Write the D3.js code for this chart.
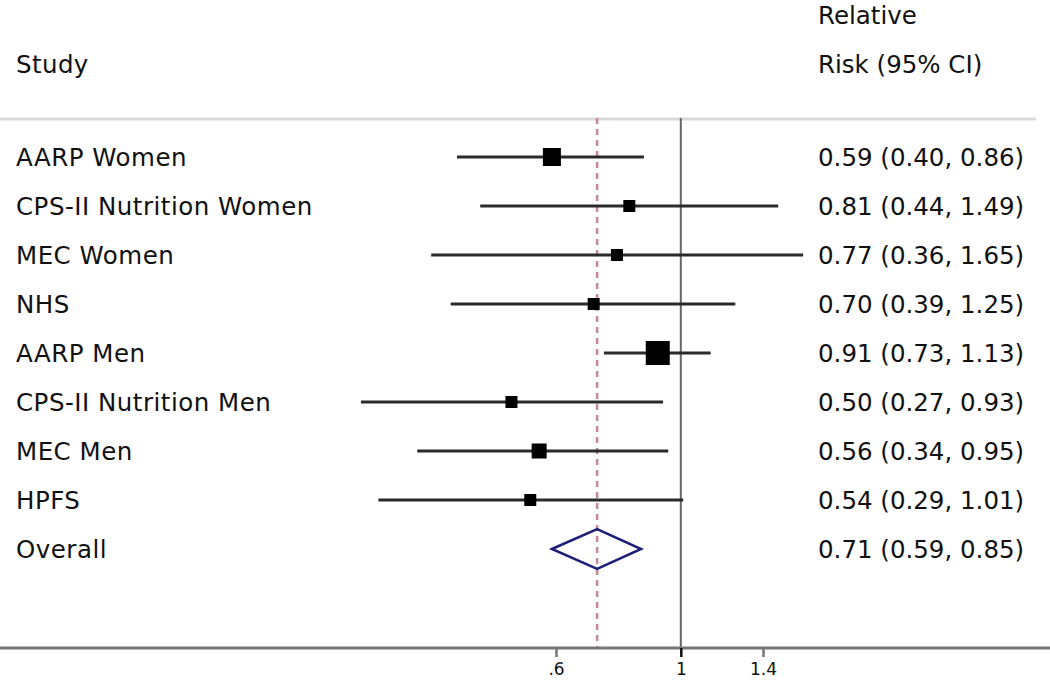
<!DOCTYPE html>
<html>
<head>
<meta charset="utf-8">
<script src="https://cdn.jsdelivr.net/npm/d3@7"></script>
<style>
  html, body { margin: 0; padding: 0; background: #fff; }
  svg { display: block; font-family: "DejaVu Sans", Verdana, sans-serif; }
</style>
</head>
<body>
<svg id="chart" width="1050" height="684"></svg>
<script>
// ---- data ----
const studies = ["AARP Women", "CPS-II Nutrition Women", "MEC Women", "NHS",
                 "AARP Men", "CPS-II Nutrition Men", "MEC Men", "HPFS"];
const rr    = [0.59, 0.81, 0.77, 0.70, 0.91, 0.50, 0.56, 0.54];
const lower = [0.40, 0.44, 0.36, 0.39, 0.73, 0.27, 0.34, 0.29];
const upper = [0.86, 1.49, 1.65, 1.25, 1.13, 0.93, 0.95, 1.01];
const weights = [17.6, 7.8, 7.8, 7.8, 31.2, 7.8, 12.2, 7.8]; // % weight (box area)
const overall = { label: "Overall", rr: 0.71, lower: 0.59, upper: 0.85 };
const tickValues = [0.6, 1, 1.4];
const tickLabels = [".6", "1", "1.4"];

// ---- layout ----
const svg = d3.select("#chart");
const W = 1050, H = 684;
const axisY = 648, topY = 118;
const fmt = d3.format(".2f");

const x = d3.scaleLog().domain([0.6, 1.4]).range([556, 763]);
const rows = studies.concat([overall.label]);
const y = d3.scalePoint().domain(rows).range([157, 549]);
const box = d3.scaleSqrt().domain([0, d3.max(weights)]).range([0, 24]);

// header separator
svg.append("line")
  .attr("x1", 0).attr("x2", 1036).attr("y1", 119).attr("y2", 119)
  .attr("stroke", "#d9d9d9").attr("stroke-width", 3);

// headers
const hdr = svg.append("g").attr("font-size", 24.5).attr("fill", "#111");
hdr.append("text").attr("x", 16).attr("y", 73).attr("letter-spacing", 0.4).text("Study");
hdr.append("text").attr("x", 818).attr("y", 24).text("Relative");
hdr.append("text").attr("x", 818).attr("y", 73).text("Risk (95% CI)");

// null line at 1
svg.append("line")
  .attr("x1", x(1)).attr("x2", x(1)).attr("y1", topY).attr("y2", axisY)
  .attr("stroke", "#666").attr("stroke-width", 2);

// overall dashed line
svg.append("line")
  .attr("x1", x(overall.rr)).attr("x2", x(overall.rr)).attr("y1", topY).attr("y2", axisY)
  .attr("stroke", "#c48a94").attr("stroke-width", 2.5).attr("stroke-dasharray", "6,5");

// CI lines
const data = studies.map((s, i) => ({ s, rr: rr[i], lo: lower[i], hi: upper[i], w: weights[i] }));
svg.append("g").selectAll("line").data(data).join("line")
  .attr("x1", d => x(d.lo)).attr("x2", d => x(d.hi))
  .attr("y1", d => y(d.s)).attr("y2", d => y(d.s))
  .attr("stroke", "#2a2a2a").attr("stroke-width", 3);

// boxes
svg.append("g").selectAll("rect").data(data).join("rect")
  .attr("x", d => x(d.rr) - box(d.w) / 2)
  .attr("y", d => y(d.s) - box(d.w) / 2)
  .attr("width", d => box(d.w)).attr("height", d => box(d.w))
  .attr("fill", "#000");

// diamond
const oy = y(overall.label), dh = 20;
svg.append("path")
  .attr("d", `M${x(overall.lower)},${oy} L${x(overall.rr)},${oy - dh} L${x(overall.upper)},${oy} L${x(overall.rr)},${oy + dh} Z`)
  .attr("fill", "none").attr("stroke", "#1c1f78").attr("stroke-width", 2.5);

// labels
const lab = svg.append("g").attr("font-size", 24.5).attr("fill", "#111");
lab.selectAll("text.l").data(rows).join("text").attr("class", "l")
  .attr("x", 16).attr("y", d => y(d) + 9).attr("letter-spacing", 0.5).text(d => d);
const allRows = data.concat([{ s: overall.label, rr: overall.rr, lo: overall.lower, hi: overall.upper }]);
lab.selectAll("text.r").data(allRows).join("text").attr("class", "r")
  .attr("x", 818).attr("y", d => y(d.s) + 9)
  .text(d => `${fmt(d.rr)} (${fmt(d.lo)}, ${fmt(d.hi)})`);

// x axis
svg.append("line")
  .attr("x1", 0).attr("x2", W).attr("y1", axisY).attr("y2", axisY)
  .attr("stroke", "#777").attr("stroke-width", 3);
const axis = d3.axisBottom(x).tickValues(tickValues)
  .tickFormat((d, i) => tickLabels[i]).tickSize(9).tickPadding(6);
const ag = svg.append("g").attr("transform", `translate(0,${axisY})`).call(axis);
ag.select(".domain").remove();
ag.selectAll(".tick line").attr("stroke", (d) => d === 1 ? "#111" : "#777").attr("stroke-width", 2.5);
ag.selectAll(".tick text").attr("fill", "#111")
  .style("font-size", "17px").style("font-family", "\"DejaVu Sans\", sans-serif");
</script>
</body>
</html>
